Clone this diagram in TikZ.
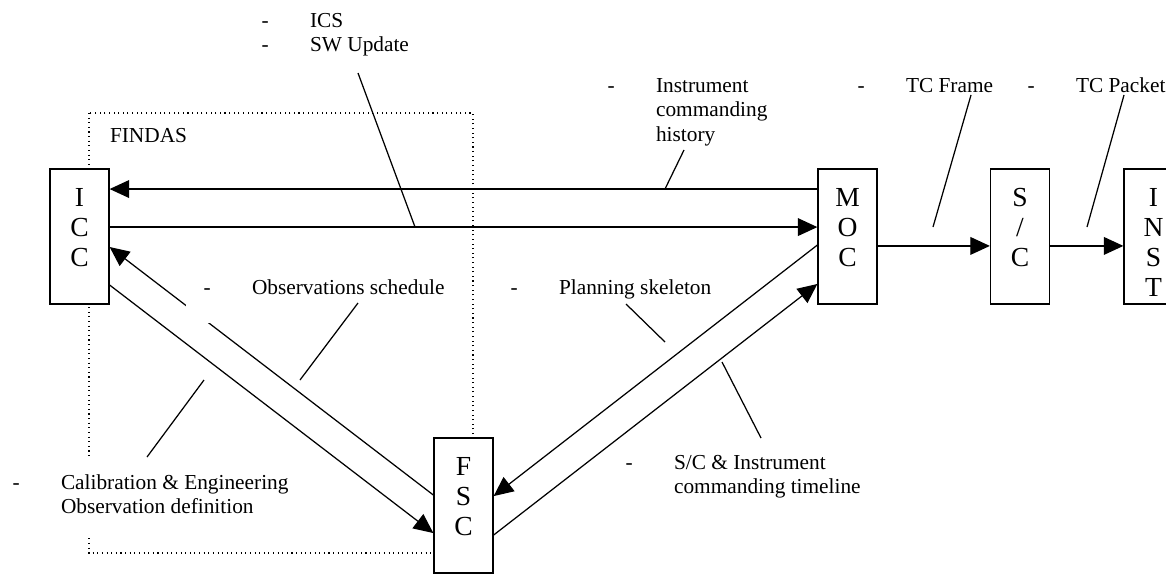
\documentclass[tikz,border=0pt]{standalone}
\usepackage{fontspec}
\setmainfont{Liberation Serif}
\usetikzlibrary{arrows.meta,positioning}

% dash list as in the data flow sheet
\newcommand{\dashitem}[1]{\begin{tabular}[t]{@{}l@{\hspace{23.3pt}}l@{}}#1\end{tabular}}

\begin{document}
\begin{tikzpicture}[
    x=0.5625pt, y=-0.5625pt,
    blk/.style={rectangle, draw, fill=white, line width=0.7pt, minimum width=33.2pt, minimum height=75.9pt, inner sep=0pt, align=center, font=\fontsize{15.5}{16.9}\selectfont},
    note/.style={fill=white, inner sep=2pt, anchor=text, font=\fontsize{12}{14}\selectfont},
    arr/.style={-{Triangle[length=11pt,width=10pt]}, line width=0.7pt},
    callout/.style={line width=0.7pt}
]
\useasboundingbox (0,0) rectangle (1166,573);

% FINDAS area
\draw[dotted, line width=0.6pt] (89,113) rectangle (473,553);
\node[note] (findas) at (110,142) {FINDAS};

% Centres
\node[blk] (icc) at (79.5,236.5) {I\\C\\C\\[-6.8pt]~};
\node[blk] (moc) at (847.5,236.5) {M\\O\\C\\[-6.8pt]~};
\node[blk] (sc) at (1020,236.5) {S\\/\\C\\[-6.8pt]~};
\node[blk] (inst) at (1153.5,236.5) {I\\N\\S\\T\\[-23.7pt]~};
\node[blk] (fsc) at (463.5,505.5) {F\\S\\C\\[-6.8pt]~};

% Flows
\foreach \a/\sa/\b/\sb in {moc.west/26.7/icc.east/26.7, icc.east/5.3/moc.west/5.3,
    moc.east/-5.3/sc.west/-5.3, sc.east/-5.3/inst.west/-5.3,
    icc.east/-27.3/fsc.west/-15.5, fsc.west/5.9/icc.east/-5.9,
    moc.west/-4.8/fsc.east/5.3, fsc.east/-16.6/moc.west/-26.7} {
    \draw[arr] ([yshift=\sa pt]\a) -- ([yshift=\sb pt]\b);
}

% Flow contents
\node[note] (ics) at (261.5,27) {\dashitem{- & ICS\\ - & SW Update}};
\node[note] (hist) at (607.5,92) {\dashitem{- & Instrument\\ & commanding\\ & history}};
\node[note] (frame) at (857.5,92) {\dashitem{- & TC Frame}};
\node[note] (packet) at (1027.5,92) {\dashitem{- & TC Packet}};
\node[note, inner xsep=10pt, inner ysep=12pt] (sched) at (203.5,294) {\dashitem{- & Observations schedule}};
\node[note] (skel) at (510.5,294) {\dashitem{- & Planning skeleton}};
\node[note, inner ysep=8pt] (calib) at (12.5,489) {\dashitem{- & Calibration \& Engineering\\ & Observation definition}};
\node[note] (tline) at (625.5,469) {\dashitem{- & S/C \& Instrument\\ & commanding timeline}};

% Callout ends
\coordinate (icsA) at (358,73);    \coordinate (icsB) at (415,227);
\coordinate (histA) at (684,150);  \coordinate (histB) at (665,189);
\coordinate (frameA) at (971,95);  \coordinate (frameB) at (933,227);
\coordinate (packA) at (1124,95);  \coordinate (packB) at (1087,227);
\coordinate (schedA) at (358,303); \coordinate (schedB) at (300,380);
\coordinate (calA) at (204,380);   \coordinate (calB) at (147,457);
\coordinate (skelA) at (626,304);  \coordinate (skelB) at (665,342);
\coordinate (tlA) at (722,362);    \coordinate (tlB) at (761,438);

\foreach \i/\j in {icsA/icsB, histA/histB, frameA/frameB, packA/packB, schedA/schedB, calA/calB, skelA/skelB, tlA/tlB} {
    \draw[callout] (\i) -- (\j);
}

\end{tikzpicture}
\end{document}
